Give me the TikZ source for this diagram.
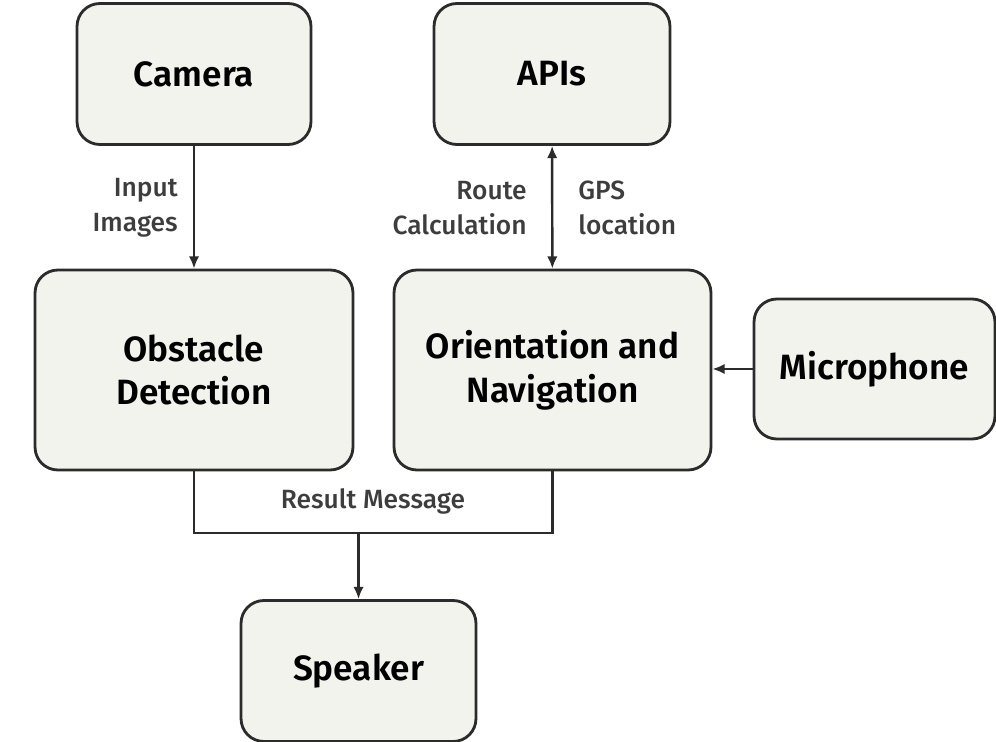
\documentclass[tikz,border=0pt]{standalone}
\usepackage{fontspec}
\setmainfont{Fira Sans}
\newfontfamily\blockfont{Fira Sans SemiBold}
\newfontfamily\tagfont{Fira Sans Medium}
\usetikzlibrary{positioning, arrows.meta}
\definecolor{boxfill}{HTML}{F3F3EE}
\definecolor{boxline}{HTML}{2B2B2B}
\definecolor{labeltext}{HTML}{3D3D3D}
\tikzset{
	block/.style={rectangle, rounded corners=13pt, draw=boxline, line width=1.6pt, fill=boxfill,
		text=black, align=center, font=\blockfont\fontsize{20}{25}\selectfont, inner sep=0pt},
	wire/.style={draw=boxline, line width=1.4pt},
	flow/.style={wire, -{Latex[length=7pt,width=6pt]}},
	flowboth/.style={wire, {Latex[length=7pt,width=6pt]}-{Latex[length=7pt,width=6pt]}},
	tag/.style={text=labeltext, font=\tagfont\fontsize{15}{20}\selectfont, inner sep=0pt}
}

\begin{document}
\begin{tikzpicture}[x=0.02cm, y=-0.02cm]
\useasboundingbox (0,0) rectangle (996,742);
% top row
\node [block, minimum width=4.68cm, minimum height=2.82cm] (camera) at (194,74) {Camera};
\node [block, minimum width=4.72cm, minimum height=2.82cm] (apis) at (552,74) {APIs};
% middle row
\node [block, minimum width=6.36cm, minimum height=4cm] (obstacle) at (194,370) {Obstacle\\Detection};
\node [block, minimum width=6.34cm, minimum height=4cm] (orient) at (552.5,370) {Orientation and\\Navigation};
\node [block, minimum width=4.82cm, minimum height=2.8cm] (mic) at (874.5,369) {Microphone};
% bottom
\node [block, minimum width=4.7cm, minimum height=2.82cm] (speaker) at (358.5,671) {Speaker};

\coordinate (join) at (358.5,533);

\draw [flow] (camera) -- (obstacle);
\draw [flowboth] (apis) -- (orient);
\draw [flow] (mic.west) -- (orient.east |- mic.west);
\draw [wire] (obstacle.south) |- (join) -| (orient.south);
\draw [flow] (join) -- (speaker);

% labels
\node [tag, align=right, anchor=east] (inputlbl) at (178,208) {Input\\Images};
\node [tag, align=right, anchor=east] (routelbl) at (527,208) {Route\\Calculation};
\node [tag, align=left, anchor=west] (gpslbl) at (578,208) {GPS\\location};
\node [tag] (resultlbl) at (373,501) {Result Message};
\end{tikzpicture}
\end{document}
